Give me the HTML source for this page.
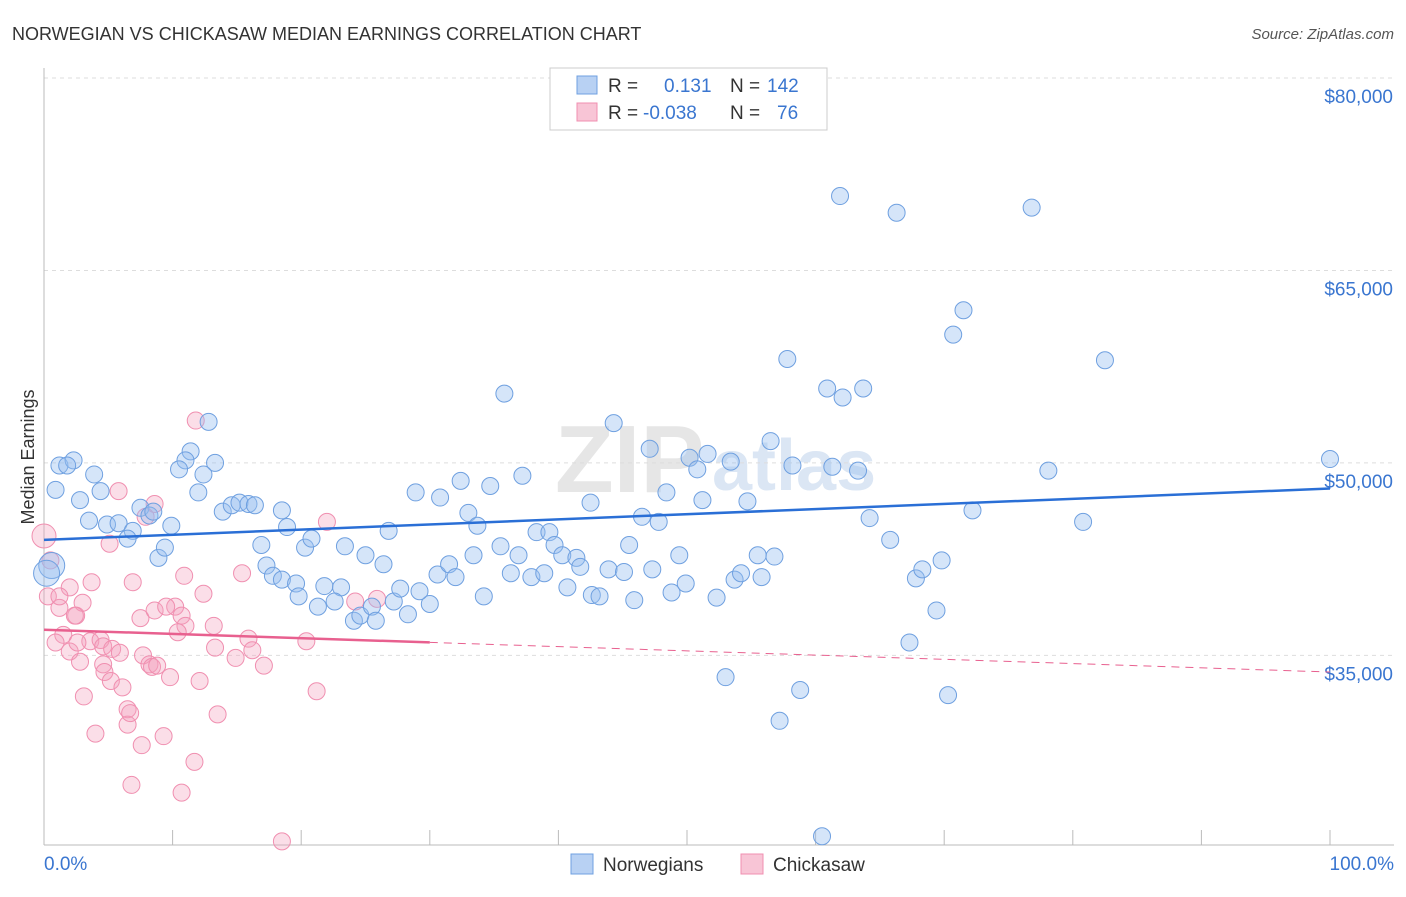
<!DOCTYPE html>
<html><head><meta charset="utf-8">
<style>
body{margin:0;background:#fff;font-family:"Liberation Sans",sans-serif;}
svg text{font-family:"Liberation Sans",sans-serif;}
</style></head>
<body>
<svg id="chart" width="1406" height="892" xmlns="http://www.w3.org/2000/svg">
<text x="12" y="40" font-size="18" fill="#333">NORWEGIAN VS CHICKASAW MEDIAN EARNINGS CORRELATION CHART</text>
<text x="1394" y="39" font-size="15" fill="#555" text-anchor="end" font-style="italic">Source: ZipAtlas.com</text>
<text x="34" y="457" font-size="18" fill="#333" text-anchor="middle" transform="rotate(-90 34 457)">Median Earnings</text>
<g><text x="555" y="492" font-size="96" fill="#e6e6e6" font-family="Liberation Serif" font-weight="bold">ZIP</text><text x="712" y="490" font-size="72" fill="#dbe6f4" font-weight="bold">atlas</text></g>
<g id="grid"></g>
<g id="axes"></g>
<g id="marks"></g>
<g>
<rect x="550" y="68" width="277" height="62" fill="#fff" stroke="#ccc"/>
<rect x="577" y="76" width="20" height="18" fill="#b8d1f3" stroke="#6fa0e0"/>
<rect x="577" y="103" width="20" height="18" fill="#f8c5d6" stroke="#f08fb0"/>
<text x="608" y="92" font-size="19" fill="#333">R =</text><text x="664" y="92" font-size="19" fill="#3a76d0">0.131</text>
<text x="730" y="92" font-size="19" fill="#333">N =</text><text x="767" y="92" font-size="19" fill="#3a76d0">142</text>
<text x="608" y="119" font-size="19" fill="#333">R =</text><text x="643" y="119" font-size="19" fill="#3a76d0">-0.038</text>
<text x="730" y="119" font-size="19" fill="#333">N =</text><text x="777" y="119" font-size="19" fill="#3a76d0">76</text>
</g>
<g>
<rect x="571" y="854" width="22" height="20" fill="#b8d1f3" stroke="#6fa0e0"/>
<text x="603" y="871" font-size="19" fill="#333">Norwegians</text>
<rect x="741" y="854" width="22" height="20" fill="#f8c5d6" stroke="#f08fb0"/>
<text x="773" y="871" font-size="19" fill="#333">Chickasaw</text>
</g>
</svg>
<script>
const yTicks=[80,65,50,35];
const yTickLabels=["$80,000","$65,000","$50,000","$35,000"];
const xTickLabels=["0.0%","100.0%"];
const blueX=[61.9,66.3,76.8,71.5,70.7,57.8,82.5,60.9,62.1,63.7,35.8,44.3,12.8,47.1,56.5,50.2,51.6,50.8,53.4,58.2,61.3,63.3,78.1,100,1.2,2.3,3.9,1.8,0.9,2.8,4.4,11.4,11.0,10.5,13.3,12.4,12.0,28.9,30.8,32.4,34.7,37.2,42.5,48.4,51.2,54.7,3.5,4.9,5.8,6.9,6.5,7.5,8.2,8.5,9.9,13.9,14.6,15.2,15.9,16.4,18.5,18.9,46.5,47.8,64.2,72.2,80.8,16.9,20.3,20.8,23.4,26.8,25.0,26.4,8.9,9.4,33.0,33.7,35.5,33.4,36.9,38.3,39.3,39.7,40.3,41.4,41.7,45.5,49.4,65.8,69.8,56.8,55.5,17.3,17.8,18.5,19.6,21.8,23.1,19.8,21.3,22.6,24.1,24.6,25.5,25.8,27.2,27.7,28.3,30.0,29.2,30.6,31.5,32.0,34.2,36.3,37.9,38.9,40.7,42.6,43.2,43.9,45.1,45.9,47.3,48.8,49.9,52.3,53.7,54.2,55.8,67.8,68.3,69.4,67.3,53.0,58.8,57.2,70.3,60.5,0.6,0.2,1.0,0.3];
const blueY=[70.8,69.5,69.9,61.9,60.0,58.1,58.0,55.8,55.1,55.8,55.4,53.1,53.2,51.1,51.7,50.4,50.7,49.5,50.1,49.8,49.7,49.4,49.4,50.3,49.8,50.2,49.1,49.8,47.9,47.1,47.8,50.9,50.2,49.5,50.0,49.1,47.7,47.7,47.3,48.6,48.2,49.0,46.9,47.7,47.1,47.0,45.5,45.2,45.3,44.7,44.1,46.5,45.9,46.2,45.1,46.2,46.7,46.9,46.8,46.7,46.3,45.0,45.8,45.4,45.7,46.3,45.4,43.6,43.4,44.1,43.5,44.7,42.8,42.1,42.6,43.4,46.1,45.1,43.5,42.8,42.8,44.6,44.6,43.6,42.8,42.6,41.9,43.6,42.8,44.0,42.4,42.7,42.8,42.0,41.2,40.9,40.6,40.4,40.3,39.6,38.8,39.2,37.7,38.1,38.8,37.7,39.2,40.2,38.2,39.0,40.0,41.3,42.1,41.1,39.6,41.4,41.1,41.4,40.3,39.7,39.6,41.7,41.5,39.3,41.7,39.9,40.6,39.5,40.9,41.4,41.1,41.0,41.7,38.5,36.0,33.3,32.3,29.9,31.9,20.9,42.0,41.4,47.9,41.4];
const blueR=[8.5,8.5,8.5,8.5,8.5,8.5,8.5,8.5,8.5,8.5,8.5,8.5,8.5,8.5,8.5,8.5,8.5,8.5,8.5,8.5,8.5,8.5,8.5,8.5,8.5,8.5,8.5,8.5,8.5,8.5,8.5,8.5,8.5,8.5,8.5,8.5,8.5,8.5,8.5,8.5,8.5,8.5,8.5,8.5,8.5,8.5,8.5,8.5,8.5,8.5,8.5,8.5,8.5,8.5,8.5,8.5,8.5,8.5,8.5,8.5,8.5,8.5,8.5,8.5,8.5,8.5,8.5,8.5,8.5,8.5,8.5,8.5,8.5,8.5,8.5,8.5,8.5,8.5,8.5,8.5,8.5,8.5,8.5,8.5,8.5,8.5,8.5,8.5,8.5,8.5,8.5,8.5,8.5,8.5,8.5,8.5,8.5,8.5,8.5,8.5,8.5,8.5,8.5,8.5,8.5,8.5,8.5,8.5,8.5,8.5,8.5,8.5,8.5,8.5,8.5,8.5,8.5,8.5,8.5,8.5,8.5,8.5,8.5,8.5,8.5,8.5,8.5,8.5,8.5,8.5,8.5,8.5,8.5,8.5,8.5,8.5,8.5,8.5,8.5,8.5,13,13];
const pinkX=[11.8,5.8,8.6,7.9,22.0,5.1,0,0.5,15.4,10.9,2.0,3.7,6.9,12.4,0.3,1.2,2.5,1.5,3.6,4.4,4.6,5.3,7.5,8.6,10.2,10.7,11.0,9.5,13.2,10.4,13.3,15.9,16.2,14.9,17.1,20.4,24.2,25.9,0.9,2.0,2.8,4.6,4.7,5.2,6.1,7.7,8.2,8.4,9.8,12.1,3.1,6.5,6.5,7.6,9.3,4.0,13.5,21.2,6.8,10.7,11.7,18.5,1.2,3.0,2.6,2.4,5.9,8.8,6.7];
const pinkY=[53.3,47.8,46.8,45.8,45.4,43.7,44.3,42.4,41.4,41.2,40.3,40.7,40.7,39.8,39.6,38.7,38.1,36.6,36.1,36.2,35.7,35.5,37.9,38.5,38.8,38.1,37.3,38.8,37.3,36.8,35.6,36.3,35.4,34.8,34.2,36.1,39.2,39.4,36.0,35.3,34.5,34.3,33.7,33.0,32.5,35.0,34.3,34.1,33.3,33.0,31.8,30.8,29.6,28.0,28.7,28.9,30.4,32.2,24.9,24.3,26.7,20.5,39.6,39.1,36.0,38.1,35.2,34.2,30.5];
const pinkR=[8.5,8.5,8.5,8.5,8.5,8.5,12,8.5,8.5,8.5,8.5,8.5,8.5,8.5,8.5,8.5,8.5,8.5,8.5,8.5,8.5,8.5,8.5,8.5,8.5,8.5,8.5,8.5,8.5,8.5,8.5,8.5,8.5,8.5,8.5,8.5,8.5,8.5,8.5,8.5,8.5,8.5,8.5,8.5,8.5,8.5,8.5,8.5,8.5,8.5,8.5,8.5,8.5,8.5,8.5,8.5,8.5,8.5,8.5,8.5,8.5,8.5,8.5,8.5,8.5,8.5,8.5,8.5,8.5];
const blueTrend=[44.0,48.0];
const pinkTrend=[37.0,33.7];
const pinkSolidEnd=30;

const NS="http://www.w3.org/2000/svg";
function xS(p){return 44+p*12.86;}
function yS(v){return 78+(80-v)*12.83;}
function mk(tag,attrs,parent){const e=document.createElementNS(NS,tag);for(const k in attrs)e.setAttribute(k,attrs[k]);parent.appendChild(e);return e;}
const grid=document.getElementById('grid'),axes=document.getElementById('axes'),marks=document.getElementById('marks');
yTicks.forEach((t,i)=>{
  const l=mk('line',{x1:44,x2:1394,y1:yS(t),y2:yS(t),stroke:'#ddd','stroke-dasharray':'4,4'},grid);
  
  
  const tx=mk('text',{x:1393,y:yS(t)+25,'font-size':19,fill:'#3a76d0','text-anchor':'end'},axes);
  tx.textContent=yTickLabels[i];
  
  
});
const ax=mk('line',{x1:44,x2:1394,y1:845,y2:845,stroke:'#bbb'},axes);


const ay=mk('line',{x1:44,x2:44,y1:68,y2:845,stroke:'#bbb'},axes);


for(let i=0;i<=10;i++){
  const t=mk('line',{x1:xS(i*10),x2:xS(i*10),y1:830,y2:845,stroke:'#bbb'},axes);
  
  
}
const xl0=mk('text',{x:44,y:870,'font-size':19,fill:'#3a76d0'},axes);
xl0.textContent=xTickLabels[0];


const xl1=mk('text',{x:1394,y:870,'font-size':19,fill:'#3a76d0','text-anchor':'end'},axes);
xl1.textContent=xTickLabels[1];



pinkX.forEach((x,i)=>{
  const c=mk('circle',{cx:xS(x),cy:yS(pinkY[i]),r:pinkR[i],fill:'rgba(244,160,190,0.35)',stroke:'#f08fb0','stroke-width':1},marks);
  
  
});
blueX.forEach((x,i)=>{
  const c=mk('circle',{cx:xS(x),cy:yS(blueY[i]),r:blueR[i],fill:'rgba(150,190,240,0.4)',stroke:'#6fa0e0','stroke-width':1},marks);
  
  
});
const bt=mk('line',{x1:xS(0),y1:yS(blueTrend[0]),x2:xS(100),y2:yS(blueTrend[1]),stroke:'#2a6fd6','stroke-width':2.5},marks);


const pm=pinkTrend[0]+(pinkTrend[1]-pinkTrend[0])*pinkSolidEnd/100;
const pt=mk('line',{x1:xS(0),y1:yS(pinkTrend[0]),x2:xS(pinkSolidEnd),y2:yS(pm),stroke:'#e8608f','stroke-width':2.5},marks);


const pd=mk('line',{x1:xS(pinkSolidEnd),y1:yS(pm),x2:xS(100),y2:yS(pinkTrend[1]),stroke:'#e8608f','stroke-width':1,'stroke-dasharray':'8,6'},marks);


</script>
</body></html>
